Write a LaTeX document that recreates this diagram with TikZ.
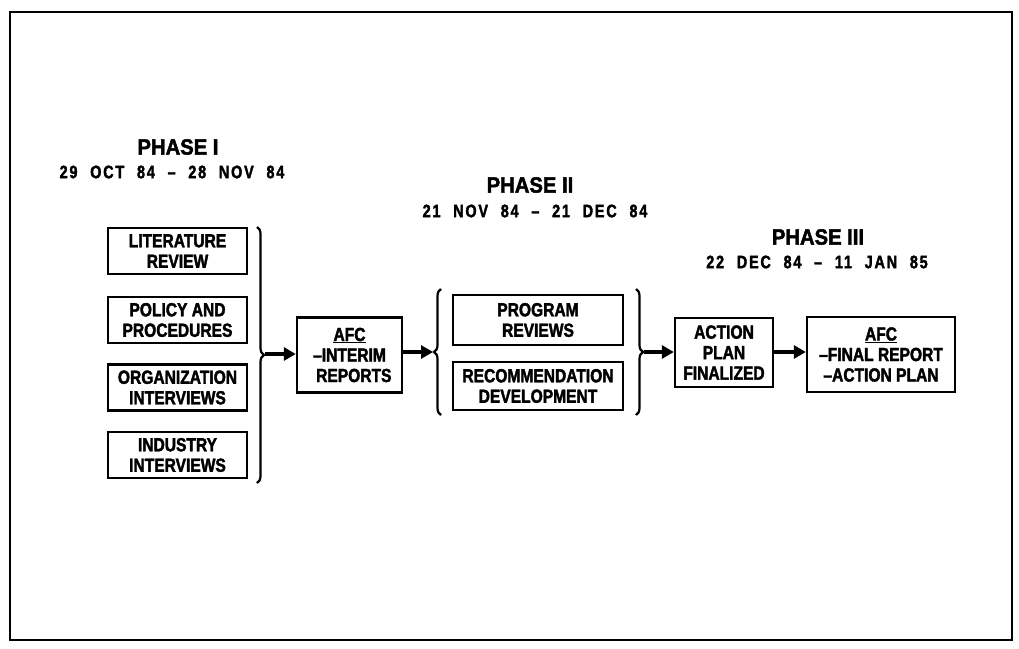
\documentclass[tikz,border=0pt]{standalone}
\usepackage{fontspec}
\usetikzlibrary{decorations.pathreplacing,arrows.meta}
\newfontfamily\boxfont[FakeStretch=0.82,FakeBold=2]{Liberation Sans}
\newfontfamily\titlefont[FakeStretch=0.92,FakeBold=2]{Liberation Sans}
\newfontfamily\datefont[FakeStretch=0.8,FakeBold=2,LetterSpace=10,WordSpace=2.2]{Liberation Sans}
\tikzset{
  stage/.style={draw, line width=2.4pt, align=center, inner sep=2pt,
    font=\boxfont\bfseries\fontsize{19}{20.5}\selectfont},
  phasetitle/.style={font=\titlefont\bfseries\fontsize{22}{24}\selectfont},
  phasedate/.style={font=\datefont\bfseries\fontsize{18}{19}\selectfont},
  flow/.style={line width=3.6pt, -{Triangle[length=12pt,width=13pt]}},
  bracket/.style={line width=2.2pt, decorate, decoration={brace, amplitude=7pt}},
}
\begin{document}
\begin{tikzpicture}[x=1pt,y=-1pt]
\useasboundingbox (0,0) rectangle (1019,648);
\draw[line width=2.6pt] (10,12) rectangle (1012,640);

% titles
\node[phasetitle] (p1) at (178,147) {PHASE I};
\node[phasedate] (d1) at (172,172) {29 OCT 84 \textendash\ 28 NOV 84};
\node[phasetitle] (p2) at (530,185) {PHASE II};
\node[phasedate] (d2) at (535,211) {21 NOV 84 \textendash\ 21 DEC 84};
\node[phasetitle] (p3) at (818,237) {PHASE III};
\node[phasedate] (d3) at (817,262) {22 DEC 84 \textendash\ 11 JAN 85};

% phase I boxes
\node[stage, minimum width=139pt, minimum height=46pt] (lit) at (177.5,251) {LITERATURE\\REVIEW};
\node[stage, minimum width=139pt, minimum height=46pt] (pol) at (177.5,320) {POLICY AND\\PROCEDURES};
\node[stage, minimum width=139pt, minimum height=46pt] (org) at (177.5,387.5) {ORGANIZATION\\INTERVIEWS};
\node[stage, minimum width=139pt, minimum height=46pt] (ind) at (177.5,455) {INDUSTRY\\INTERVIEWS};

\coordinate (b1top) at (257,227);
\coordinate (b1bot) at (257,483);
\draw[bracket] (b1top) -- (b1bot);
\coordinate (b1tip) at (265,354);

\node[stage, minimum width=105pt, minimum height=75pt] (afc1) at (349.5,355) {\underline{AFC}\\\textendash INTERIM\\\ \ REPORTS};

% phase II
\node[stage, minimum width=170pt, minimum height=50pt] (prog) at (538,320) {PROGRAM\\REVIEWS};
\node[stage, minimum width=170pt, minimum height=48pt] (rec) at (538,386) {RECOMMENDATION\\DEVELOPMENT};

\coordinate (b2top) at (441,289);
\coordinate (b2bot) at (441,415);
\draw[bracket] (b2bot) -- (b2top);
\coordinate (b2tip) at (433,352);

\coordinate (b3top) at (636,289);
\coordinate (b3bot) at (636,415);
\draw[bracket] (b3top) -- (b3bot);
\coordinate (b3tip) at (644,352);

% phase III
\node[stage, minimum width=98pt, minimum height=69pt] (act) at (724,352.5) {ACTION\\PLAN\\FINALIZED};
\node[stage, minimum width=148pt, minimum height=75pt] (fin) at (881,354.5) {\underline{AFC}\\\textendash FINAL REPORT\\\textendash ACTION PLAN};

% connectors
\draw[flow] (b1tip) -- (afc1.west |- b1tip);
\draw[flow] (afc1.east |- b2tip) -- (b2tip);
\draw[flow] (b3tip) -- (act.west |- b3tip);
\draw[flow] (act.east |- b3tip) -- (fin.west |- b3tip);
\end{tikzpicture}
\end{document}
